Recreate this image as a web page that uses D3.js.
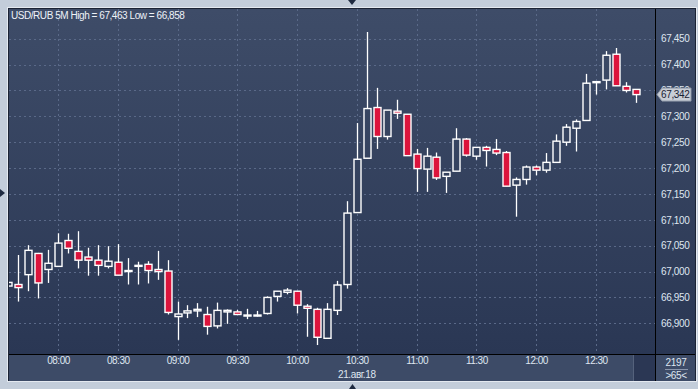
<!DOCTYPE html>
<html><head><meta charset="utf-8">
<script src="https://cdn.jsdelivr.net/npm/d3@7"></script>
<style>
html,body{margin:0;padding:0;background:#c3cdda;}
svg{display:block;}
text{font-family:"Liberation Sans",Arial,sans-serif;}
</style></head>
<body>
<svg id="c" width="698" height="389"></svg>
<script>
const times = ["07:35","07:40","07:45","07:50","07:55","08:00","08:05","08:10","08:15","08:20","08:25","08:30","08:35","08:40","08:45","08:50","08:55","09:00","09:05","09:10","09:15","09:20","09:25","09:30","09:35","09:40","09:45","09:50","09:55","10:00","10:05","10:10","10:15","10:20","10:25","10:30","10:35","10:40","10:45","10:50","10:55","11:00","11:05","11:10","11:15","11:20","11:25","11:30","11:35","11:40","11:45","11:50","11:55","12:00","12:05","12:10","12:15","12:20","12:25","12:30","12:35","12:40","12:45","12:50"];
const open  = [66972,66975,66994,67035,67004,67010,67060,67039,67028,67022,67010,67018,67001,67011,67014,67004,67001,66913,66920,66924,66917,66895,66922,66922,66914,66914,66919,66952,66960,66962,66933,66927,66871,66925,66975,67114,67219,67317,67261,67310,67304,67227,67198,67221,67184,67194,67256,67223,67240,67236,67230,67167,67178,67202,67196,67211,67250,67277,67292,67365,67370,67420,67358,67352];
const high  = [66980,67032,67051,67036,67042,67074,67073,67078,67046,67051,67049,67053,67026,67019,67020,67040,67022,66942,66935,66939,66932,66940,66927,66926,66928,66924,66952,66962,66968,66962,66937,66930,66939,66982,67136,67287,67463,67355,67312,67332,67304,67237,67239,67230,67192,67277,67258,67240,67243,67256,67233,67182,67205,67205,67229,67265,67285,67294,67382,67368,67426,67432,67366,67352];
const low   = [66970,66942,66962,66948,66978,67010,67035,67006,66992,66992,67006,66993,66975,66975,66977,66984,66917,66868,66910,66912,66878,66890,66899,66916,66908,66913,66917,66942,66956,66919,66874,66858,66871,66916,66967,67114,67219,67237,67255,67295,67224,67154,67154,67177,67152,67194,67222,67216,67203,67225,67165,67106,67168,67186,67191,67211,67243,67232,67292,67342,67352,67359,67346,67326];
const close = [66979,66969,67041,66978,67016,67055,67045,67022,67022,67012,67020,66993,67002,67012,67002,67000,66921,66918,66924,66927,66894,66925,66925,66917,66916,66916,66950,66962,66964,66935,66929,66873,66927,66974,67113,67217,67315,67261,67312,67306,67224,67199,67223,67181,67192,67256,67225,67240,67234,67229,67165,67178,67202,67196,67211,67252,67279,67290,67364,67367,67418,67359,67350,67342];
const yTicks = [66900,66950,67000,67050,67100,67150,67200,67250,67300,67350,67400,67450];
const xTickLabels = ["08:00","08:30","09:00","09:30","10:00","10:30","11:00","11:30","12:00","12:30"];
const title = "USD/RUB 5M High = 67,463 Low = 66,858";
const dateLabel = "21.авг.18";
const lastPrice = 67342;
const countLabel = "2197";
const zoomLabel = ">65<";

const toMin = s => { const [h,m] = s.split(":").map(Number); return h*60+m; };
const data = times.map((t,i)=>({t:toMin(t),o:open[i],h:high[i],l:low[i],c:close[i]}));

const svg = d3.select("#c");
const L=9, R=655, T=9, B=354;
const x = d3.scaleLinear().domain([480,770]).range([58,635.7]);
const y = d3.scaleLinear().domain([66900,67450]).range([323.3,38.7]);
const fmt = v => d3.format(",")(v);

const defs = svg.append("defs");
const g1 = defs.append("linearGradient").attr("id","bg").attr("gradientUnits","userSpaceOnUse")
  .attr("x1",0).attr("y1",T).attr("x2",0).attr("y2",B);
g1.append("stop").attr("offset",0).attr("stop-color","#3e4c68");
g1.append("stop").attr("offset",1).attr("stop-color","#2a3754");
defs.append("clipPath").attr("id","clip").append("rect").attr("x",L).attr("y",T).attr("width",R-L).attr("height",B-T);

// outer frame
svg.append("rect").attr("x",0).attr("y",0).attr("width",698).attr("height",389).attr("fill","#c3cdda");
svg.append("rect").attr("x",7).attr("y",7).attr("width",690).attr("height",375).attr("fill","#e4e9f0");
svg.append("rect").attr("x",8).attr("y",8).attr("width",688).attr("height",373).attr("fill","#1b2334");
// plot background
svg.append("rect").attr("x",L).attr("y",T).attr("width",R-L).attr("height",B-T).attr("fill","url(#bg)");
// right panel
svg.append("rect").attr("x",R+1).attr("y",T).attr("width",39).attr("height",B-T).attr("fill","url(#bg)");
// bottom strip
svg.append("rect").attr("x",L).attr("y",B+1).attr("width",R-L).attr("height",26).attr("fill","#3d4b67");
svg.append("rect").attr("x",634).attr("y",B+1).attr("width",21).attr("height",26).attr("fill","#2b3754");
svg.append("line").attr("x1",633.5).attr("x2",633.5).attr("y1",B+1).attr("y2",B+27).attr("stroke","#55627c");
svg.append("rect").attr("x",R+1).attr("y",B+1).attr("width",39).attr("height",26).attr("fill","#3d4b67");
// separators
svg.append("line").attr("x1",R+0.5).attr("x2",R+0.5).attr("y1",T).attr("y2",B+27).attr("stroke","#000");
svg.append("line").attr("x1",L).attr("x2",695).attr("y1",B+0.5).attr("y2",B+0.5).attr("stroke","#000");

// grid
const grid = svg.append("g");
grid.selectAll(".hg").data(yTicks).enter().append("line")
  .attr("x1",L).attr("x2",R).attr("y1",d=>Math.round(y(d))+0.5).attr("y2",d=>Math.round(y(d))+0.5)
  .attr("stroke","#5a6988").attr("stroke-dasharray","2,3");
grid.selectAll(".vg").data(xTickLabels).enter().append("line")
  .attr("x1",d=>Math.round(x(toMin(d)))+0.5).attr("x2",d=>Math.round(x(toMin(d)))+0.5).attr("y1",T).attr("y2",B)
  .attr("stroke","#5a6988").attr("stroke-dasharray","2,3");

// candles
const cg = svg.append("g").attr("clip-path","url(#clip)");
const cx = d => Math.round(x(d.t))+0.5;
cg.selectAll(".w").data(data).enter().append("line")
  .attr("x1",cx).attr("x2",cx).attr("y1",d=>y(d.h)).attr("y2",d=>y(d.l))
  .attr("stroke","#ffffff").attr("stroke-width",1.3);
cg.selectAll(".b").data(data).enter().append("rect")
  .attr("x",d=>cx(d)-3.5).attr("width",7)
  .attr("y",d=>Math.min(y(d.o),y(d.c)))
  .attr("height",d=>Math.max(1,Math.abs(y(d.o)-y(d.c))))
  .attr("fill",d=>d.c<d.o?"#dc143c":"url(#bg)")
  .attr("stroke","#ffffff").attr("stroke-width",1.4);

// y axis
const ya = svg.append("g").attr("transform",`translate(${R+1},0)`)
  .call(d3.axisRight(y).tickValues(yTicks).tickFormat(fmt).tickSize(0).tickPadding(5));
ya.select(".domain").remove();
ya.selectAll("text").attr("fill","#dfe6f0").attr("font-size","10px").attr("letter-spacing","-0.35px")
  .style("font-family","'Liberation Sans',Arial,sans-serif");

// last price marker
const ly = y(lastPrice);
svg.append("path").attr("d",`M657,${ly} L662,${ly-6.5} L691,${ly-6.5} L691,${ly+6.5} L662,${ly+6.5} Z`)
  .attr("fill","#c9ced6").attr("stroke","#8e98a8");
svg.append("text").attr("x",661).attr("y",ly+3.6).attr("font-size","10px").attr("letter-spacing","-0.35px")
  .attr("fill","#1a2234").text(fmt(lastPrice));

// x axis
const xa = svg.append("g").attr("transform",`translate(0,${B})`)
  .call(d3.axisBottom(x).tickValues(xTickLabels.map(toMin)).tickFormat((d,i)=>xTickLabels[i]).tickSize(0).tickPadding(3));
xa.select(".domain").remove();
xa.selectAll("text").attr("fill","#dfe6f0").attr("font-size","10px").attr("letter-spacing","-0.5px")
  .style("font-family","'Liberation Sans',Arial,sans-serif");
svg.append("text").attr("x",x(toMin("10:30"))).attr("y",377.5).attr("text-anchor","middle")
  .attr("font-size","10px").attr("letter-spacing","-0.4px").attr("fill","#dfe6f0").text(dateLabel);

// bottom-right cell
svg.append("text").attr("x",676).attr("y",366).attr("text-anchor","middle").attr("font-size","10px")
  .attr("letter-spacing","-0.3px").attr("fill","#dfe6f0").text(countLabel);
svg.append("line").attr("x1",665).attr("x2",688).attr("y1",369.5).attr("y2",369.5).attr("stroke","#8a96ac");
svg.append("text").attr("x",676).attr("y",378.5).attr("text-anchor","middle").attr("font-size","10px")
  .attr("letter-spacing","-0.4px").attr("fill","#dfe6f0").text(zoomLabel);

// title
svg.append("text").attr("x",11).attr("y",18.5).attr("font-size","10px").attr("letter-spacing","-0.45px")
  .attr("fill","#eef2f8").text(title);

// navigation triangles
svg.append("path").attr("d","M348,0 L356,0 L352,5 Z").attr("fill","#1e2a40");
svg.append("path").attr("d","M349,389 L356,389 L352.5,384 Z").attr("fill","#1e2a40");
svg.append("path").attr("d","M0,189 L0,197 L5,193 Z").attr("fill","#1e2a40");
</script>
</body></html>
